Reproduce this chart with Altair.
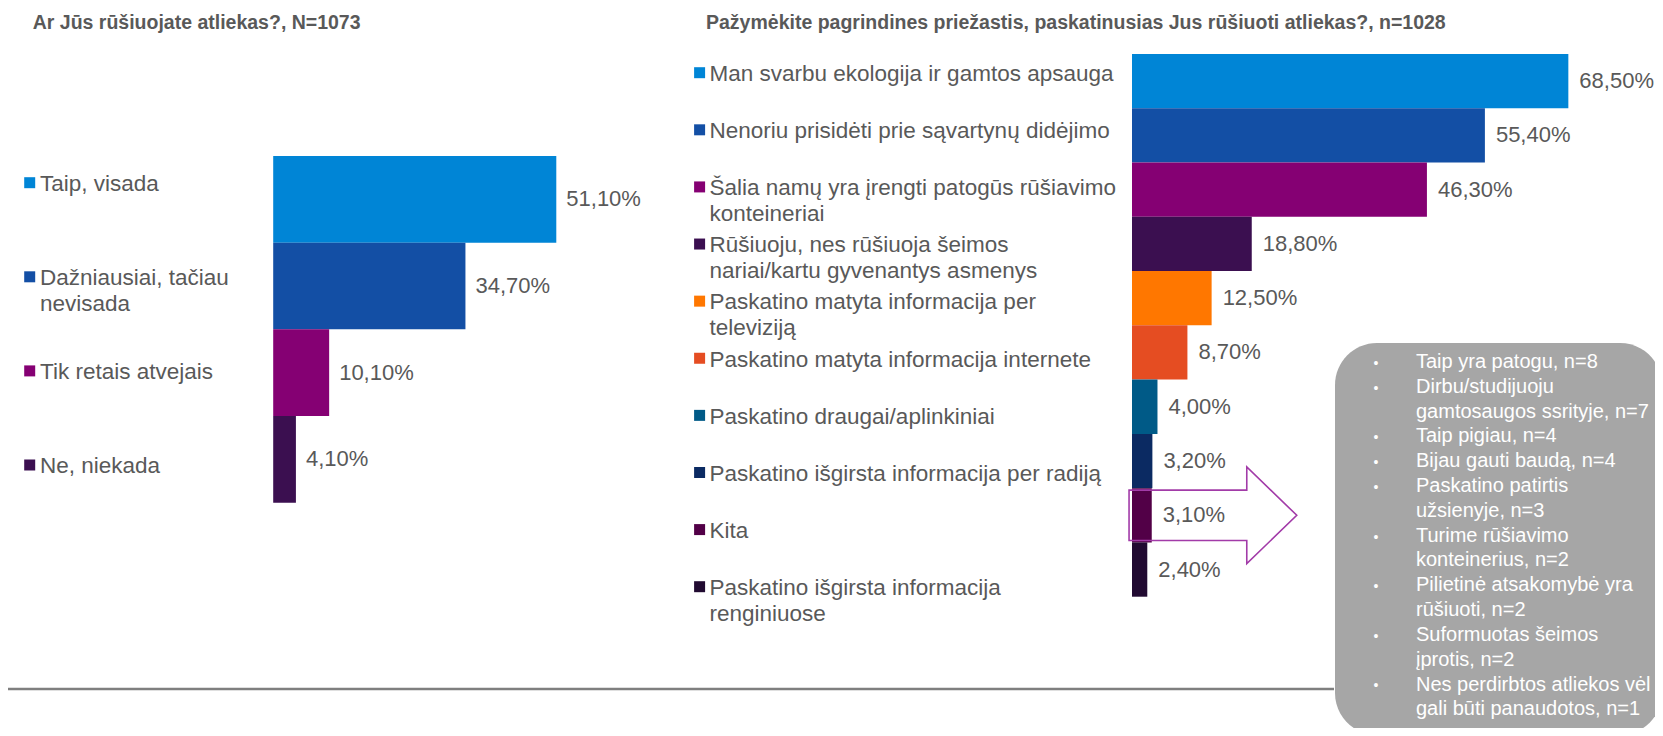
import altair as alt
import pandas as pd

FONT = "Liberation Sans"
TEXT_GRAY = "#595959"

# ---------------- data ----------------
left_title = "Ar Jūs rūšiuojate atliekas?, N=1073"
left_categories = [
    "Taip, visada",
    "Dažniausiai, tačiau\nnevisada",
    "Tik retais atvejais",
    "Ne, niekada",
]
left_values = [51.1, 34.7, 10.1, 4.1]
left_colors = ["#0085D6", "#134FA5", "#850073", "#3B0F50"]

right_title = "Pažymėkite pagrindines priežastis, paskatinusias Jus rūšiuoti atliekas?, n=1028"
right_categories = [
    "Man svarbu ekologija ir gamtos apsauga",
    "Nenoriu prisidėti prie sąvartynų didėjimo",
    "Šalia namų yra įrengti patogūs rūšiavimo\nkonteineriai",
    "Rūšiuoju, nes rūšiuoja šeimos\nnariai/kartu gyvenantys asmenys",
    "Paskatino matyta informacija per\nteleviziją",
    "Paskatino matyta informacija internete",
    "Paskatino draugai/aplinkiniai",
    "Paskatino išgirsta informacija per radiją",
    "Kita",
    "Paskatino išgirsta informacija\nrenginiuose",
]
right_values = [68.5, 55.4, 46.3, 18.8, 12.5, 8.7, 4.0, 3.2, 3.1, 2.4]
right_colors = ["#0085D6", "#134FA5", "#850073", "#3B0F50", "#FF7700",
                "#E54D22", "#005A87", "#0B2A62", "#520047", "#210A31"]
highlight_category = "Kita"

box_items = [
    "Taip yra patogu, n=8",
    "Dirbu/studijuoju\ngamtosaugos ssrityje, n=7",
    "Taip pigiau, n=4",
    "Bijau gauti baudą, n=4",
    "Paskatino patirtis\nužsienyje, n=3",
    "Turime rūšiavimo\nkonteinerius, n=2",
    "Pilietinė atsakomybė yra\nrūšiuoti, n=2",
    "Suformuotas šeimos\nįprotis, n=2",
    "Nes perdirbtos atliekos vėl\ngali būti panaudotos, n=1",
]


def pct(v):
    return f"{v:.2f}".replace(".", ",") + "%"


left_df = pd.DataFrame({"lcat": left_categories, "lval": left_values,
                        "llab": [pct(v) for v in left_values]})
right_df = pd.DataFrame({"rcat": right_categories, "rval": right_values,
                         "rlab": [pct(v) for v in right_values]})

first_lines = []
n = 0
for it in box_items:
    first_lines.append(n)
    n += it.count("\n") + 1
box_df = pd.DataFrame({"item": box_items, "line": first_lines})
last_line = n - 1

one = pd.DataFrame({"k": [0]})

# ---------------- scales ----------------
lx = alt.X("lval:Q", scale=alt.Scale(domain=[0, 100], range=[265.2, 819.2], nice=False, zero=True), axis=None)
ly = alt.Y("lcat:N", scale=alt.Scale(domain=left_categories, range=[148, 494.7],
                                     paddingInner=0, paddingOuter=0), axis=None)
ly_leg = alt.Y("lcat:N", scale=alt.Scale(type="point", domain=left_categories,
                                         range=[174.7, 457], padding=0), axis=None)
lcolor = alt.Color("lcat:N", scale=alt.Scale(domain=left_categories, range=left_colors), legend=None)

rx = alt.X("rval:Q", scale=alt.Scale(domain=[0, 100], range=[1124, 1761], nice=False, zero=True), axis=None)
ry = alt.Y("rcat:N", scale=alt.Scale(domain=right_categories, range=[46, 588.7],
                                     paddingInner=0, paddingOuter=0), axis=None)
ry_leg = alt.Y("rcat:N", scale=alt.Scale(type="point", domain=right_categories,
                                         range=[64.7, 578.7], padding=0), axis=None)
rcolor = alt.Color("rcat:N", scale=alt.Scale(domain=right_categories, range=right_colors), legend=None)

by = alt.Y("line:Q", scale=alt.Scale(domain=[0, last_line], range=[352.7, 700.3], nice=False, zero=False), axis=None)

# ---------------- layers ----------------
left_bars = alt.Chart(left_df).mark_bar().encode(x=lx, y=ly, color=lcolor)
left_vals = alt.Chart(left_df).mark_text(
    align="left", baseline="middle", dx=10, fontSize=22, font=FONT, color=TEXT_GRAY
).encode(x=lx, y=ly, text="llab:N")
left_sq = alt.Chart(left_df).mark_square(size=121, opacity=1).encode(
    x=alt.value(21.7), y=ly_leg, color=lcolor)
left_leg = alt.Chart(left_df).mark_text(
    align="left", baseline="top", dy=-9.7, lineBreak="\n", lineHeight=26,
    fontSize=22.5, font=FONT, color=TEXT_GRAY
).encode(x=alt.value(32), y=ly_leg, text="lcat:N")

right_bars = alt.Chart(right_df).mark_bar().encode(x=rx, y=ry, color=rcolor)
right_vals = alt.Chart(right_df).mark_text(
    align="left", baseline="middle", dx=11, fontSize=22, font=FONT, color=TEXT_GRAY
).encode(x=rx, y=ry, text="rlab:N")
right_sq = alt.Chart(right_df).mark_square(size=121, opacity=1).encode(
    x=alt.value(691.6), y=ry_leg, color=rcolor)
right_leg = alt.Chart(right_df).mark_text(
    align="left", baseline="top", dy=-9.7, lineBreak="\n", lineHeight=26,
    fontSize=22.5, font=FONT, color=TEXT_GRAY
).encode(x=alt.value(701.5), y=ry_leg, text="rcat:N")

ARROW = "M -1 -0.3 L 0.404 -0.3 L 0.404 -0.577 L 1 0 L 0.404 0.577 L 0.404 0.3 L -1 0.3 Z"
arrow = alt.Chart(right_df).transform_filter(
    alt.datum.rcat == highlight_category
).mark_point(shape=ARROW, size=28124, filled=False, stroke="#A23BA8",
             strokeWidth=1.6, opacity=1).encode(x=alt.value(1204.9), y=ry)

titles_left = alt.Chart(one).mark_text(
    text=left_title, align="left", baseline="middle", fontSize=19.5, fontWeight="bold",
    font=FONT, color=TEXT_GRAY).encode(x=alt.value(24.7), y=alt.value(15))
titles_right = alt.Chart(one).mark_text(
    text=right_title, align="left", baseline="middle", fontSize=19.5, fontWeight="bold",
    font=FONT, color=TEXT_GRAY).encode(x=alt.value(698), y=alt.value(15))

hline = alt.Chart(one).mark_rule(color="#7F7F7F", strokeWidth=2.5).encode(
    x=alt.value(0), x2=alt.value(1326), y=alt.value(681))

box = alt.Chart(one).mark_rect(cornerRadius=42, color="#A6A6A6").encode(
    x=alt.value(1327), x2=alt.value(1654), y=alt.value(335), y2=alt.value(727))
box_text = alt.Chart(box_df).mark_text(
    align="left", baseline="top", dy=-8.8, lineBreak="\n", lineHeight=24.8,
    fontSize=20, font=FONT, color="white"
).encode(x=alt.value(1408), y=by, text="item:N")
box_bullets = alt.Chart(box_df).mark_text(
    text="•", align="center", baseline="middle", dy=3, fontSize=14, font=FONT, color="white"
).encode(x=alt.value(1368), y=by)

chart = alt.layer(
    titles_left, titles_right,
    left_bars, left_vals, left_sq, left_leg,
    right_bars, arrow, right_vals, right_sq, right_leg,
    hline, box, box_text, box_bullets,
).resolve_scale(
    x="independent", y="independent", color="independent"
).properties(
    width=1647, height=720, padding=0,
    autosize=alt.AutoSizeParams(type="none"),
    background="white",
).configure_view(stroke=None)

chart.save("out.html", embed_options={"renderer": "svg", "actions": False})
